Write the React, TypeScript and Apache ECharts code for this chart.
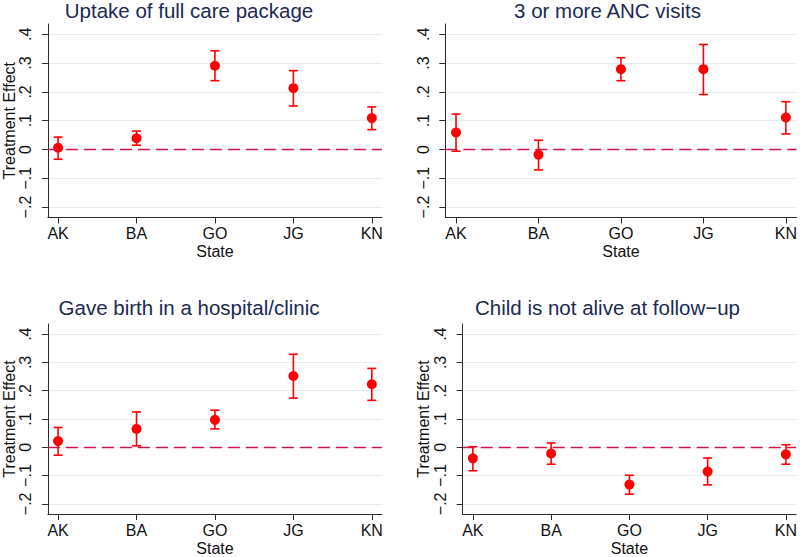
import React, { useEffect, useRef } from "react";
import * as echarts from "echarts";

const states = ["AK", "BA", "GO", "JG", "KN"];
const stateX = [1, 2, 3, 4, 5];

const yTicks = [-0.2, -0.1, 0, 0.1, 0.2, 0.3, 0.4];
const yTickLabels = ["−.2", "−.1", "0", ".1", ".2", ".3", ".4"];

const titles = [
  "Uptake of full care package",
  "3 or more ANC visits",
  "Gave birth in a hospital/clinic",
  "Child is not alive at follow−up",
];

const est1 = [0.006, 0.039, 0.291, 0.213, 0.109];
const lo1 = [-0.034, 0.015, 0.239, 0.151, 0.069];
const hi1 = [0.043, 0.064, 0.343, 0.274, 0.148];

const est2 = [0.059, -0.018, 0.279, 0.279, 0.111];
const lo2 = [-0.006, -0.071, 0.239, 0.191, 0.054];
const hi2 = [0.123, 0.032, 0.319, 0.365, 0.166];

const est3 = [0.022, 0.065, 0.097, 0.252, 0.223];
const lo3 = [-0.028, 0.005, 0.065, 0.174, 0.166];
const hi3 = [0.07, 0.125, 0.131, 0.329, 0.279];

const est4 = [-0.039, -0.022, -0.132, -0.086, -0.025];
const lo4 = [-0.083, -0.06, -0.166, -0.133, -0.06];
const hi4 = [0.002, 0.015, -0.099, -0.038, 0.009];

const panels = [
  { est: est1, lo: lo1, hi: hi1 },
  { est: est2, lo: lo2, hi: hi2 },
  { est: est3, lo: lo3, hi: hi3 },
  { est: est4, lo: lo4, hi: hi4 },
];

const FONT = "'Liberation Sans', Arial, Helvetica, sans-serif";
const RED = "#FF0000";
const AXIS = "#2b2b2b";

const grids = [
  { left: 44.7, top: 24, width: 337.3, height: 193.4 },
  { left: 445.3, top: 24, width: 354.2, height: 193.4 },
  { left: 44.7, top: 324, width: 337.3, height: 193 },
  { left: 462.7, top: 324, width: 337.2, height: 193 },
];
const showYName = [true, false, true, true];
const titlePos = [
  { x: 189, y: 10.5 },
  { x: 607.5, y: 10.5 },
  { x: 189, y: 307.5 },
  { x: 607.5, y: 307.5 },
];

export default function App() {
  const ref = useRef<HTMLDivElement>(null);
  useEffect(() => {
    if (!ref.current) return;
    const chart = echarts.init(ref.current, undefined, { renderer: "svg" });

    const xAxis = grids.map((_, i) => ({
      type: "value",
      gridIndex: i,
      min: 0.87,
      max: 5.13,
      name: "State",
      nameLocation: "middle",
      nameGap: 26,
      nameTextStyle: { fontFamily: FONT, fontSize: 16, color: "#111" },
      axisLine: { show: true, onZero: false, lineStyle: { color: AXIS, width: 1 } },
      axisTick: { show: true, length: 6, customValues: stateX, lineStyle: { color: AXIS } },
      axisLabel: {
        customValues: stateX,
        margin: 8,
        fontFamily: FONT,
        fontSize: 16,
        color: "#111",
        formatter: (v: number) => states[Math.round(v) - 1] ?? "",
      },
      splitLine: { show: false },
    }));

    const yAxis = grids.map((_, i) => ({
      type: "value",
      gridIndex: i,
      min: -0.236,
      max: 0.436,
      name: showYName[i] ? "Treatment Effect" : "",
      nameLocation: "middle",
      nameRotate: 90,
      nameGap: 29,
      nameTextStyle: { fontFamily: FONT, fontSize: 16, color: "#111" },
      axisLine: { show: true, onZero: false, lineStyle: { color: AXIS, width: 1 } },
      axisTick: { show: true, length: 6, customValues: yTicks, lineStyle: { color: AXIS } },
      axisLabel: {
        customValues: yTicks,
        rotate: 90,
        margin: 14,
        fontFamily: FONT,
        fontSize: 16,
        color: "#111",
        formatter: (v: number) => {
          const k = yTicks.findIndex((t) => Math.abs(t - v) < 1e-6);
          return k >= 0 ? yTickLabels[k] : "";
        },
      },
      splitLine: { show: true, lineStyle: { color: "#E4EDF0", width: 1.2 } },
    }));

    const series: any[] = [];
    panels.forEach((p, i) => {
      series.push({
        type: "custom",
        xAxisIndex: i,
        yAxisIndex: i,
        z: 3,
        data: stateX.map((x, k) => [x, p.lo[k], p.hi[k]]),
        encode: { x: 0, y: [1, 2] },
        renderItem: (params: any, api: any) => {
          const x = api.value(0);
          const a = api.coord([x, api.value(1)]);
          const b = api.coord([x, api.value(2)]);
          const hw = 4.5;
          const style = { stroke: RED, lineWidth: 1.6 };
          return {
            type: "group",
            children: [
              { type: "line", shape: { x1: a[0], y1: a[1], x2: b[0], y2: b[1] }, style },
              { type: "line", shape: { x1: a[0] - hw, y1: a[1], x2: a[0] + hw, y2: a[1] }, style },
              { type: "line", shape: { x1: b[0] - hw, y1: b[1], x2: b[0] + hw, y2: b[1] }, style },
            ],
          };
        },
      });
      series.push({
        type: "scatter",
        xAxisIndex: i,
        yAxisIndex: i,
        z: 4,
        symbol: "circle",
        symbolSize: 10,
        itemStyle: { color: RED, opacity: 1 },
        data: stateX.map((x, k) => [x, p.est[k]]),
      });
      series.push({
        type: "line",
        xAxisIndex: i,
        yAxisIndex: i,
        z: 2,
        data: [],
        markLine: {
          silent: true,
          symbol: "none",
          label: { show: false },
          lineStyle: { color: "#D2144A", type: [12, 6], width: 1.4 },
          data: [{ yAxis: 0 }],
        },
      });
    });

    chart.setOption({
      animation: false,
      backgroundColor: "#ffffff",
      grid: grids.map((g) => ({ ...g, containLabel: false })),
      xAxis,
      yAxis,
      series,
      graphic: titles.map((t, i) => ({
        type: "text",
        x: titlePos[i].x,
        y: titlePos[i].y,
        style: {
          text: t,
          font: `20.5px ${FONT}`,
          fill: "#1C2A52",
          align: "center",
          verticalAlign: "middle",
        },
      })),
    });
    return () => chart.dispose();
  }, []);
  return (
    <div
      ref={ref}
      style={{ position: "fixed", left: 0, top: 0, width: 800, height: 557 }}
    />
  );
}
